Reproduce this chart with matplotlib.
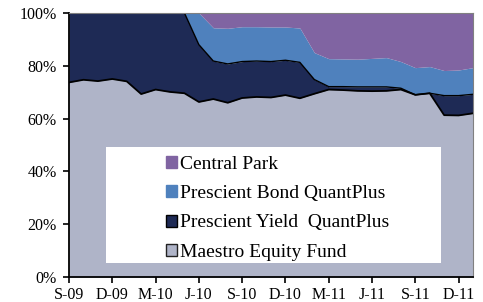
import numpy as np
import matplotlib
matplotlib.use("Agg")
import matplotlib.pyplot as plt
from matplotlib.patches import Rectangle, Patch

# monthly, Sep-09 .. Jan-12 (shares in %)
months = ["S-09", "O-09", "N-09", "D-09", "J-10", "F-10", "M-10", "A-10", "M-10", "J-10",
          "J-10", "A-10", "S-10", "O-10", "N-10", "D-10", "J-11", "F-11", "M-11", "A-11",
          "M-11", "J-11", "J-11", "A-11", "S-11", "O-11", "N-11", "D-11", "J-12"]

maestro = [73.7, 74.7, 74.2, 75.0, 74.1, 69.3, 71.0, 70.1, 69.6, 66.3,
           67.4, 66.0, 67.8, 68.2, 68.0, 68.9, 67.7, 69.4, 71.0, 70.8,
           70.5, 70.4, 70.5, 71.0, 69.0, 69.6, 61.3, 61.2, 62.0]
yield_qp = [26.3, 25.3, 25.8, 25.0, 25.9, 30.7, 29.0, 29.9, 30.4, 21.7,
            14.4, 14.7, 13.8, 13.6, 13.6, 13.2, 13.6, 5.4, 1.1, 1.3,
            1.5, 1.6, 1.5, 0.5, 0.0, 0.0, 7.4, 7.5, 7.2]
bond_qp = [0, 0, 0, 0, 0, 0, 0, 0, 0, 12.0,
           12.6, 13.5, 13.2, 13.0, 13.1, 12.6, 13.0, 10.2, 10.6, 10.5,
           10.5, 10.8, 11.1, 10.1, 10.3, 10.1, 9.5, 9.7, 10.1]
central_park = [0, 0, 0, 0, 0, 0, 0, 0, 0, 0,
                5.6, 5.8, 5.2, 5.2, 5.3, 5.3, 5.7, 15.0, 17.3, 17.4,
                17.5, 17.2, 16.9, 18.4, 20.7, 20.3, 21.8, 21.6, 20.7]

labels = ["Maestro Equity Fund", "Prescient Yield  QuantPlus",
          "Prescient Bond QuantPlus", "Central Park"]
colors = ["#AFB4C8", "#1E2A55", "#4F81BD", "#8064A2"]

plt.rcParams['font.family'] = ['Liberation Serif', 'DejaVu Serif']

fig = plt.figure(figsize=(4.83, 3.02), dpi=100)
ax = fig.add_axes([0.1429, 0.0828, 0.8364, 0.8742])

x = np.arange(len(months))
series = [maestro, yield_qp, bond_qp, central_park]
base = np.zeros(len(x))
for i, s in enumerate(series):
    top = base + np.array(s)
    ax.fill_between(x, base, top, color=colors[i], linewidth=0)
    base = top

# black outlines on the two lower series
m = np.array(maestro)
ax.plot(x, m, color="black", lw=1.3)
yt = m + np.array(yield_qp)
ax.plot(x, yt, color="black", lw=1.0)

ax.set_xlim(0, len(x) - 1)
ax.set_ylim(0, 100)
ax.set_yticks(range(0, 101, 20))
ax.set_yticklabels([f"{v}%" for v in range(0, 101, 20)], fontsize=11.5)
ax.set_xticks(x[::3])
ax.set_xticklabels(months[::3], fontsize=11.5)
ax.tick_params(axis='both', direction='out', length=4, width=1.2, color='black')
ax.tick_params(axis='y', pad=5)
ax.tick_params(axis='x', pad=3)
for sp in ["left", "bottom"]:
    ax.spines[sp].set_linewidth(1.3)
    ax.spines[sp].set_color("black")
for sp in ["top", "right"]:
    ax.spines[sp].set_linewidth(0.8)
    ax.spines[sp].set_color("#808080")

# legend box
ax.add_patch(Rectangle((0.0915, 0.053), 0.829, 0.44, transform=ax.transAxes,
                       facecolor="white", edgecolor="none", zorder=5))
handles = [Patch(facecolor=colors[3], edgecolor=colors[3]),
           Patch(facecolor=colors[2], edgecolor=colors[2]),
           Patch(facecolor=colors[1], edgecolor="black", linewidth=1.0),
           Patch(facecolor=colors[0], edgecolor="#222222", linewidth=1.0)]
leg = ax.legend(handles, labels[::-1], loc="upper left", bbox_to_anchor=(0.240, 0.460),
                frameon=False, fontsize=14, handlelength=0.58, handleheight=0.58,
                handletextpad=0.15, labelspacing=0.64, borderpad=0, borderaxespad=0)
leg.set_zorder(6)

fig.savefig("out.png", dpi=100)
